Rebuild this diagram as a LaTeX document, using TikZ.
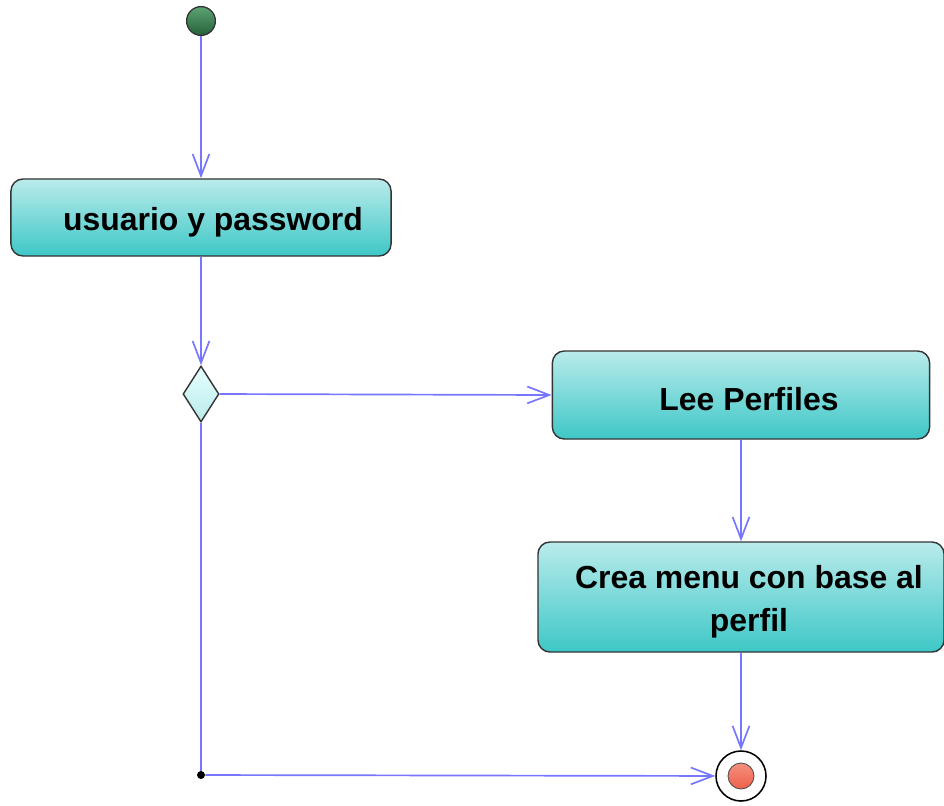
\documentclass[tikz,border=0pt]{standalone}
\usepackage{fontspec}
\setmainfont{Liberation Sans}
\usepackage{tikz}
\usetikzlibrary{shapes.geometric,arrows.meta}
\definecolor{cajaarriba}{RGB}{186,235,235}
\definecolor{cajaabajo}{RGB}{62,199,199}
\definecolor{flecha}{RGB}{118,118,255}
\definecolor{verde}{RGB}{52,140,80}
\definecolor{rojo}{RGB}{238,96,72}
\tikzstyle{accion} = [draw=black!80, line width=1pt, rounded corners=0.3cm, top color=cajaarriba, bottom color=cajaabajo, align=center, font={\fontsize{22.7}{30.5}\selectfont\bfseries}]
\tikzstyle{inicio} = [draw=black!80, line width=0.9pt, circle, minimum size=0.72cm, inner sep=0pt, top color=verde!80!white, bottom color=verde!70!black]
\tikzstyle{decision} = [draw=black!80, line width=1pt, diamond, minimum width=0.9cm, minimum height=1.4cm, inner sep=0pt, top color=white!90!cyan, bottom color=cajaarriba]
\tikzstyle{fin} = [draw=black, line width=1.1pt, circle, minimum size=1.25cm, inner sep=0pt, fill=white]
\tikzstyle{fincentro} = [draw=black!70, line width=0.6pt, circle, minimum size=0.65cm, inner sep=0pt, top color=rojo!70!white, bottom color=rojo]
\tikzstyle{union} = [circle, fill=black, minimum size=0.2cm, inner sep=0pt]
\tikzstyle{flujo} = [draw=flecha, line width=1.2pt, -{Straight Barb[length=0.55cm,width=0.42cm]}]

\begin{document}
\begin{tikzpicture}[x=0.025cm, y=-0.025cm]
    \useasboundingbox (0,0) rectangle (944,805);
    \node[inicio](ini) at (201,21){};
    \node[accion, minimum width=9.5cm, minimum height=1.925cm](usuario) at (201,217.5){\rule{0pt}{1em}\hspace{0.6cm}usuario y password};
    \node[decision](dec) at (201,394){};
    \node[accion, minimum width=9.43cm, minimum height=2.2cm](perfiles) at (741,395){\rule{0pt}{1em}\hspace{0.4cm}Lee Perfiles};
    \node[accion, minimum width=10.15cm, minimum height=2.75cm](menu) at (741,597){\rule{0pt}{1em}\hspace{0.4cm}Crea menu con base al\\\hspace{0.4cm}perfil};
    \node[fin](fin) at (741,776){};
    \node[fincentro](finc) at (741,776){};
    \node[union](union) at (201,775){};
    \draw[flujo](ini)--(usuario);
    \draw[flujo](usuario)--(dec);
    \draw[flujo](dec.east)--(perfiles.west);
    \draw[flujo](perfiles)--(menu);
    \draw[flujo](menu)--(fin);
    \draw[flujo,-](dec)--(union);
    \draw[flujo](union)--(fin);
\end{tikzpicture}
\end{document}
